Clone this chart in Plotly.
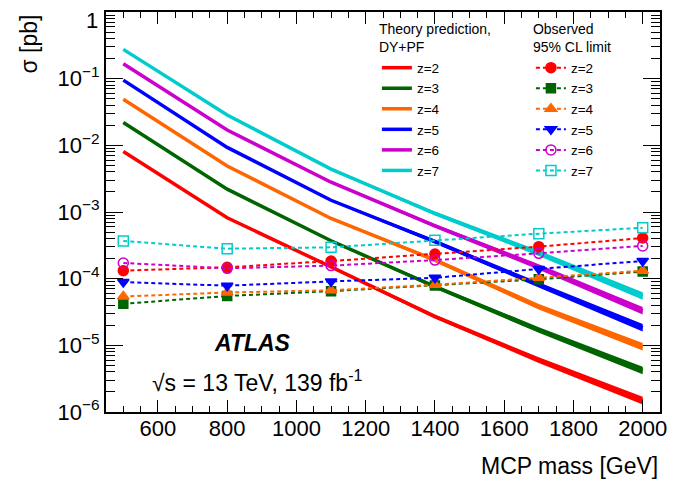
import plotly.graph_objects as go

# ---- data ----
mass = [500, 800, 1100, 1400, 1700, 2000]
charges = ["z=2", "z=3", "z=4", "z=5", "z=6", "z=7"]

theory_z2 = [8.1e-3, 8.2e-4, 1.5e-4, 2.7e-5, 6.0e-6, 1.48e-6]
theory_z3 = [2.2e-2, 2.2e-3, 3.7e-4, 7.6e-5, 1.7e-5, 4.2e-6]
theory_z4 = [4.9e-2, 4.9e-3, 8.0e-4, 1.9e-4, 3.8e-5, 9.5e-6]
theory_z5 = [9.5e-2, 9.3e-3, 1.5e-3, 3.6e-4, 8.0e-5, 1.84e-5]
theory_z6 = [0.168, 1.7e-2, 2.8e-3, 6.2e-4, 1.5e-4, 3.3e-5]
theory_z7 = [0.275, 2.85e-2, 4.4e-3, 9.5e-4, 2.4e-4, 5.5e-5]
# relative half-width of the theory band
theory_unc = [0.0, 0.015, 0.04, 0.07, 0.10, 0.14]

obs_z2 = [1.32e-4, 1.48e-4, 1.84e-4, 2.34e-4, 3.02e-4, 4.07e-4]
obs_z3 = [4.2e-5, 5.5e-5, 6.5e-5, 7.9e-5, 9.8e-5, 1.28e-4]
obs_z4 = [5.4e-5, 6.2e-5, 6.7e-5, 8.1e-5, 1.03e-4, 1.32e-4]
obs_z5 = [8.9e-5, 7.85e-5, 9.1e-5, 1.03e-4, 1.40e-4, 1.84e-4]
obs_z6 = [1.72e-4, 1.43e-4, 1.57e-4, 1.90e-4, 2.40e-4, 3.10e-4]
obs_z7 = [3.67e-4, 2.82e-4, 2.95e-4, 3.76e-4, 4.73e-4, 5.80e-4]

y_tick_vals = [1e-6, 1e-5, 1e-4, 1e-3, 1e-2, 1e-1, 1]
y_tick_text = ["10<sup>\u22126</sup>", "10<sup>\u22125</sup>", "10<sup>\u22124</sup>",
               "10<sup>\u22123</sup>", "10<sup>\u22122</sup>", "10<sup>\u22121</sup>", ""]
top_label = "1"

# ---- styles ----
colors = ["#ff0000", "#006400", "#ff6600", "#0000ff", "#cc00cc", "#00cccc"]
symbols = ["circle", "square", "triangle-up", "triangle-down", "circle-open", "square-open"]
msizes = [10, 9, 10, 10, 10, 10]
FONT = "Liberation Sans, Arial, Helvetica, sans-serif"

theories = [theory_z2, theory_z3, theory_z4, theory_z5, theory_z6, theory_z7]
observed = [obs_z2, obs_z3, obs_z4, obs_z5, obs_z6, obs_z7]

fig = go.Figure()

for lab, col, th in zip(charges, colors, theories):
    up = [c * (1 + u) for c, u in zip(th, theory_unc)]
    lo = [c / (1 + u) for c, u in zip(th, theory_unc)]
    fig.add_trace(go.Scatter(
        x=mass + mass[::-1], y=up + lo[::-1], mode="lines", fill="toself",
        fillcolor=col, line=dict(color=col, width=0), showlegend=False,
        hoverinfo="skip"))
    fig.add_trace(go.Scatter(
        x=mass, y=th, mode="lines", name=lab, line=dict(color=col, width=3.5),
        legend="legend"))

for lab, col, sym, ms, ob in zip(charges, colors, symbols, msizes, observed):
    fig.add_trace(go.Scatter(
        x=mass, y=ob, mode="lines+markers", name=lab,
        line=dict(color=col, width=2, dash="4px,3px"),
        marker=dict(symbol=sym, size=ms, color=col,
                    line=dict(color=col, width=1.5)),
        legend="legend2"))

# the page body has an 8px margin, so the figure is shrunk by 8px
fig.update_layout(
    template="none",
    width=689, height=476, autosize=False,
    margin=dict(l=98, r=37, t=4, b=72, autoexpand=False),
    paper_bgcolor="white", plot_bgcolor="white",
    font=dict(family=FONT, color="black"),
    legend=dict(
        x=0.489, y=0.99, xanchor="left", yanchor="top",
        bgcolor="rgba(0,0,0,0)", font=dict(size=13.5, family=FONT),
        title=dict(text="Theory prediction,<br>DY+PF", font=dict(size=14, family=FONT)),
        tracegroupgap=0, itemwidth=30),
    legend2=dict(
        x=0.767, y=0.99, xanchor="left", yanchor="top",
        bgcolor="rgba(0,0,0,0)", font=dict(size=13.5, family=FONT),
        title=dict(text="Observed<br>95% CL limit", font=dict(size=14, family=FONT)),
        tracegroupgap=0, itemwidth=30),
    xaxis=dict(
        range=[450, 2050], showgrid=False, zeroline=False, automargin=False,
        showline=True, linecolor="black", linewidth=2, mirror="allticks",
        ticks="inside", ticklen=12, tickwidth=1, tickcolor="black",
        dtick=200, tick0=0, tickfont=dict(size=22, family=FONT),
        ticklabelstandoff=-4,
        minor=dict(ticks="inside", ticklen=6, dtick=50, tick0=0,
                   tickcolor="black", tickwidth=1, showgrid=False)),
    yaxis=dict(
        type="log", range=[-6, 0], showgrid=False, zeroline=False, automargin=False,
        showline=True, linecolor="black", linewidth=2, mirror="allticks",
        ticks="inside", ticklen=17, tickwidth=1, tickcolor="black",
        tickmode="array", tickvals=y_tick_vals, ticktext=y_tick_text,
        tickfont=dict(size=22, family=FONT),
        minor=dict(ticks="inside", ticklen=9, tickcolor="black", tickwidth=1,
                   dtick="D1", showgrid=False)),
    annotations=[
        dict(text=top_label, xref="paper", yref="paper",
             x=-0.011, y=0.98, xanchor="right", yanchor="middle",
             showarrow=False, font=dict(size=22, family=FONT)),
        dict(text="<b><i>ATLAS</i></b>", xref="paper", yref="paper",
             x=0.192, y=0.173, xanchor="left", yanchor="middle",
             showarrow=False, font=dict(size=23, family=FONT)),
        dict(text="\u221as = 13 TeV, 139 fb<sup>-1</sup>", xref="paper", yref="paper",
             x=0.079, y=0.078, xanchor="left", yanchor="middle",
             showarrow=False, font=dict(size=23, family=FONT)),
        dict(text="MCP mass [GeV]", xref="paper", yref="paper",
             x=1.0, y=-0.135, xanchor="right", yanchor="middle",
             showarrow=False, font=dict(size=23, family=FONT)),
        dict(text="\u03c3 [pb]", xref="paper", yref="paper",
             x=-0.139, y=1.0, xanchor="center", yanchor="top", textangle=-90,
             showarrow=False, font=dict(size=23, family=FONT)),
    ],
)

fig.write_html("out.html")
